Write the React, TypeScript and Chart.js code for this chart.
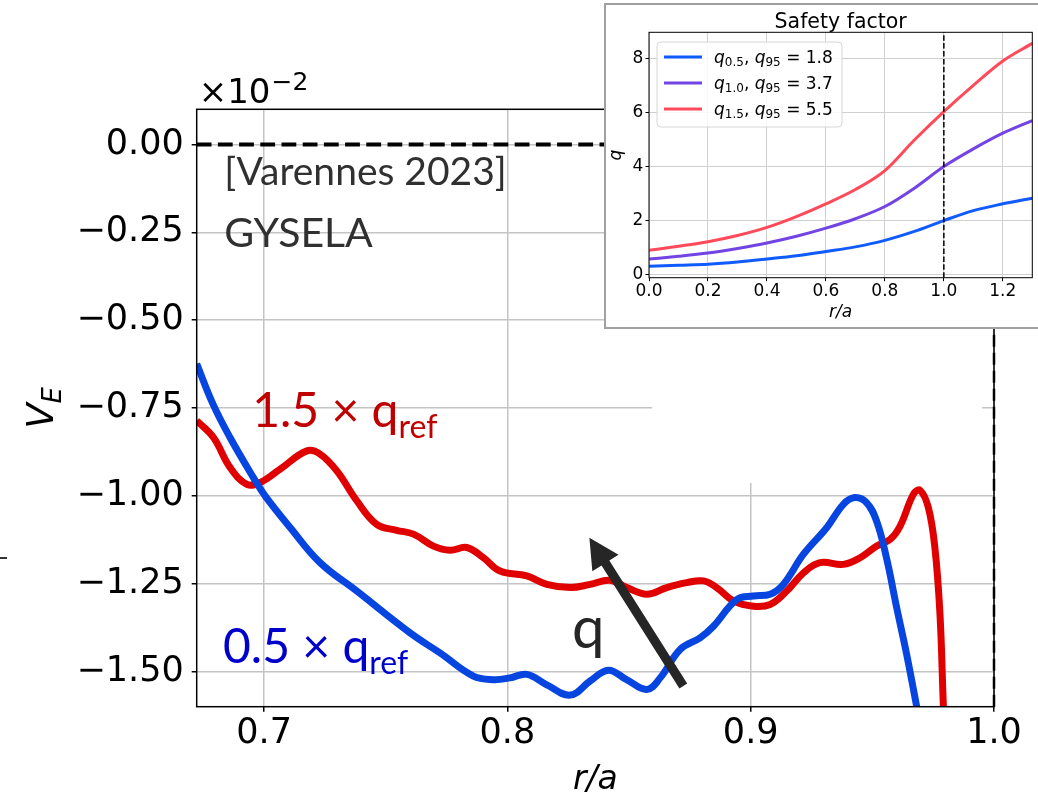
import React, { useEffect, useRef } from "react";
import { Chart, registerables } from "chart.js";
Chart.register(...registerables);

// ---------------- main panel data (V_E vs r/a, units of 1e-2) ----------------
const rBlue = [0.6723, 0.679, 0.686, 0.6956, 0.7004, 0.7107, 0.723, 0.7381, 0.76, 0.7723, 0.786, 0.7942, 0.801, 0.808, 0.816, 0.8258, 0.834, 0.8415, 0.849, 0.8573, 0.8628, 0.871, 0.8792, 0.8847, 0.8943, 0.9011, 0.908, 0.9134, 0.9217, 0.9313, 0.9381, 0.9428, 0.9476, 0.9517, 0.9558, 0.96, 0.9641, 0.9682, 0.972];
const vBlue = [-0.624, -0.739, -0.834, -0.948, -1.0, -1.09, -1.19, -1.271, -1.39, -1.447, -1.513, -1.523, -1.518, -1.508, -1.537, -1.567, -1.527, -1.496, -1.523, -1.551, -1.518, -1.437, -1.404, -1.371, -1.295, -1.285, -1.28, -1.252, -1.166, -1.09, -1.024, -1.005, -1.019, -1.071, -1.176, -1.318, -1.451, -1.599, -1.74];
const rRed = [0.6723, 0.6792, 0.686, 0.6929, 0.6984, 0.7066, 0.7176, 0.723, 0.7299, 0.7381, 0.7463, 0.7545, 0.7614, 0.7696, 0.7764, 0.7833, 0.7901, 0.797, 0.808, 0.8162, 0.8258, 0.834, 0.8421, 0.8491, 0.8573, 0.8655, 0.8737, 0.8806, 0.886, 0.8929, 0.9011, 0.908, 0.9148, 0.9217, 0.9285, 0.9381, 0.945, 0.9518, 0.9573, 0.9614, 0.9669, 0.9696, 0.973, 0.9757, 0.9778, 0.9792, 0.9805];
const vRed = [-0.786, -0.834, -0.919, -0.967, -0.962, -0.924, -0.872, -0.881, -0.929, -1.014, -1.081, -1.098, -1.109, -1.143, -1.155, -1.147, -1.176, -1.214, -1.228, -1.252, -1.261, -1.252, -1.24, -1.261, -1.28, -1.261, -1.247, -1.242, -1.261, -1.299, -1.314, -1.309, -1.271, -1.219, -1.19, -1.195, -1.176, -1.143, -1.124, -1.086, -0.995, -0.984, -1.033, -1.147, -1.337, -1.599, -1.8];
const mainXTicks = [0.7, 0.8, 0.9, 1.0];
const mainYTicks = [0, -0.25, -0.5, -0.75, -1.0, -1.25, -1.5];
const mainXMin = 0.6723;
const mainXMax = 1.0;
const mainYMin = -1.6;
const mainYMax = 0.1;
const separatrix = 1.0;

// annotations (data coordinates)
const refText = "[Varennes 2023]";
const codeText = "GYSELA";
const redLabel = ["1.5 \u00d7 q", "ref"];
const blueLabel = ["0.5 \u00d7 q", "ref"];
const arrowText = "q";
const arrowTail = [0.8723, -1.5413];
const arrowTip = [0.8337, -1.1189];

// ---------------- inset data (safety factor) ----------------
const insetR = [0, 0.1, 0.2, 0.3, 0.4, 0.5, 0.6, 0.7, 0.8, 0.9, 1.0, 1.1, 1.2, 1.3];
const qLow = [0.31, 0.35, 0.39, 0.47, 0.58, 0.7, 0.86, 1.03, 1.27, 1.6, 2.0, 2.37, 2.62, 2.83];
const qMid = [0.58, 0.68, 0.8, 0.97, 1.17, 1.42, 1.72, 2.07, 2.52, 3.2, 4.0, 4.65, 5.23, 5.7];
const qHigh = [0.9, 1.05, 1.22, 1.45, 1.75, 2.15, 2.62, 3.15, 3.85, 4.98, 6.03, 7.0, 7.9, 8.55];
const qFactors = ["0.5", "1.0", "1.5"];
const q95Values = ["1.8", "3.7", "5.5"];
const insetXTicks = [0, 0.2, 0.4, 0.6, 0.8, 1.0, 1.2];
const insetYTicks = [0, 2, 4, 6, 8];
const insetXMin = 0;
const insetXMax = 1.3;
const insetYMin = -0.11;
const insetYMax = 8.96;

const BLUE = "#0645e0";
const RED = "#e00000";
const IN_COLORS = ["#0f5bff", "#7244e4", "#ff4a5a"];
const DV = '"DejaVu Sans"';
const SLIDE = 'Lato, "Open Sans", sans-serif';

function pts(xs: number[], ys: number[]) {
  return xs.map((x, i) => ({ x, y: ys[i] }));
}

function drawParts(ctx: CanvasRenderingContext2D, x: number, y: number, parts: { t: string; f: string; dy?: number }[]) {
  for (const p of parts) {
    ctx.font = p.f;
    ctx.fillText(p.t, x, y + (p.dy || 0));
    x += ctx.measureText(p.t).width;
  }
  return x;
}

const mainOverlay = {
  id: "mainOverlay",
  beforeDatasetsDraw(chart: any) {
    // white patch left below the pasted inset
    const ctx = chart.ctx;
    const xs = chart.scales.x, ys = chart.scales.y;
    ctx.save();
    ctx.fillStyle = "#fff";
    const x0 = xs.getPixelForValue(0.8595), x1 = xs.getPixelForValue(0.9951);
    const y0 = ys.getPixelForValue(-0.52), y1 = ys.getPixelForValue(-0.963);
    ctx.fillRect(x0, y0, x1 - x0, y1 - y0);
    ctx.restore();
  },
  afterDatasetsDraw(chart: any) {
    const ctx: CanvasRenderingContext2D = chart.ctx;
    const { left, right, top, bottom } = chart.chartArea;
    const xs = chart.scales.x, ys = chart.scales.y;
    const P = (x: number, y: number) => [xs.getPixelForValue(x), ys.getPixelForValue(y)];
    ctx.save();
    // frame
    ctx.strokeStyle = "#000";
    ctx.lineWidth = 1.5;
    ctx.strokeRect(left, top, right - left, bottom - top);

    // arrow
    const [tx, ty] = P(arrowTail[0], arrowTail[1]);
    const [hx, hy] = P(arrowTip[0], arrowTip[1]);
    const dx = hx - tx, dy = hy - ty;
    const L = Math.hypot(dx, dy);
    const ux = dx / L, uy = dy / L;
    const nx = -uy, ny = ux;
    const headL = 30, headW = 15.5, shaftW = 4.6;
    const bx = hx - ux * headL, by = hy - uy * headL;
    ctx.fillStyle = "#262626";
    ctx.beginPath();
    ctx.moveTo(tx + nx * shaftW, ty + ny * shaftW);
    ctx.lineTo(bx + nx * shaftW, by + ny * shaftW);
    ctx.lineTo(bx + nx * headW, by + ny * headW);
    ctx.lineTo(hx, hy);
    ctx.lineTo(bx - nx * headW, by - ny * headW);
    ctx.lineTo(bx - nx * shaftW, by - ny * shaftW);
    ctx.lineTo(tx - nx * shaftW, ty - ny * shaftW);
    ctx.closePath();
    ctx.fill();

    // texts
    ctx.textAlign = "left";
    ctx.textBaseline = "alphabetic";
    ctx.fillStyle = "#303030";
    let [ax, ay] = P(0.6836, -0.1146);
    ctx.font = `39px ${SLIDE}`;
    ctx.fillText(refText, ax, ay);
    [ax, ay] = P(0.6836, -0.292);
    ctx.font = `41px ${SLIDE}`;
    ctx.fillText(codeText, ax, ay);

    ctx.fillStyle = "#c00000";
    [ax, ay] = P(0.6951, -0.8053);
    drawParts(ctx, ax, ay, [
      { t: redLabel[0], f: `48px ${SLIDE}` },
      { t: redLabel[1], f: `32px ${SLIDE}`, dy: 11 },
    ]);
    ctx.fillStyle = "#0000cc";
    [ax, ay] = P(0.6831, -1.4753);
    drawParts(ctx, ax, ay, [
      { t: blueLabel[0], f: `48px ${SLIDE}` },
      { t: blueLabel[1], f: `32px ${SLIDE}`, dy: 11 },
    ]);
    ctx.fillStyle = "#262626";
    [ax, ay] = P(0.8266, -1.4326);
    ctx.font = `58px ${SLIDE}`;
    ctx.fillText(arrowText, ax, ay);

    // offset text  x10^-2
    ctx.fillStyle = "#000";
    const ox = drawParts(ctx, left + 2, top - 6, [{ t: "\u00d710", f: `34px ${DV}` }]);
    drawParts(ctx, ox + 1, top - 19, [{ t: "\u22122", f: `25px ${DV}` }]);

    // x label r/a
    ctx.textAlign = "center";
    ctx.font = `italic 33px ${DV}`;
    ctx.fillText("r/a", (left + right) / 2, 789);

    // y label V_E
    ctx.save();
    ctx.translate(53, (top + bottom) / 2);
    ctx.rotate(-Math.PI / 2);
    ctx.textAlign = "left";
    ctx.font = `italic 37px ${DV}`;
    const wV = ctx.measureText("V").width;
    ctx.font = `italic 26px ${DV}`;
    const wE = ctx.measureText("E").width;
    const sx = -(wV + wE) / 2;
    ctx.font = `italic 37px ${DV}`;
    ctx.fillText("V", sx, 0);
    ctx.font = `italic 26px ${DV}`;
    ctx.fillText("E", sx + wV, 8);
    ctx.restore();

    // stray dash at left border
    ctx.fillStyle = "#333";
    ctx.fillRect(0, 557, 7, 2);
    ctx.restore();
  },
};

const insetOverlay = {
  id: "insetOverlay",
  afterDatasetsDraw(chart: any) {
    const ctx: CanvasRenderingContext2D = chart.ctx;
    const { left, right, top, bottom } = chart.chartArea;
    ctx.save();
    ctx.strokeStyle = "#000";
    ctx.lineWidth = 1;
    ctx.strokeRect(left, top, right - left, bottom - top);

    // title
    ctx.fillStyle = "#000";
    ctx.textAlign = "center";
    ctx.textBaseline = "alphabetic";
    ctx.font = `20.5px ${DV}`;
    ctx.fillText("Safety factor", (left + right) / 2, top - 4.5);

    // x label
    ctx.font = `italic 17px ${DV}`;
    ctx.fillText("r/a", (left + right) / 2, bottom + 39);

    // y label
    ctx.save();
    ctx.translate(15, (top + bottom) / 2);
    ctx.rotate(-Math.PI / 2);
    ctx.font = `italic 17px ${DV}`;
    ctx.fillText("q", 0, 0);
    ctx.restore();

    // legend
    const lx = left + 8, ly = top + 9.7, lw = 185, lh = 85, r = 4;
    ctx.beginPath();
    ctx.moveTo(lx + r, ly);
    ctx.arcTo(lx + lw, ly, lx + lw, ly + lh, r);
    ctx.arcTo(lx + lw, ly + lh, lx, ly + lh, r);
    ctx.arcTo(lx, ly + lh, lx, ly, r);
    ctx.arcTo(lx, ly, lx + lw, ly, r);
    ctx.closePath();
    ctx.fillStyle = "rgba(255,255,255,0.85)";
    ctx.fill();
    ctx.strokeStyle = "#d6d6d6";
    ctx.lineWidth = 1;
    ctx.stroke();

    ctx.textAlign = "left";
    for (let i = 0; i < qFactors.length; i++) {
      const cy = top + 24.7 + i * 26;
      ctx.strokeStyle = IN_COLORS[i];
      ctx.lineWidth = 3;
      ctx.beginPath();
      ctx.moveTo(left + 15, cy);
      ctx.lineTo(left + 53, cy);
      ctx.stroke();
      ctx.fillStyle = "#000";
      drawParts(ctx, left + 65, cy + 5.8, [
        { t: "q", f: `italic 17px ${DV}` },
        { t: qFactors[i], f: `12px ${DV}`, dy: 3.5 },
        { t: ", ", f: `17px ${DV}` },
        { t: "q", f: `italic 17px ${DV}` },
        { t: "95", f: `12px ${DV}`, dy: 3.5 },
        { t: " = " + q95Values[i], f: `17px ${DV}` },
      ]);
    }
    ctx.restore();
  },
};

export default function App() {
  const mainRef = useRef<HTMLCanvasElement>(null);
  const insetRef = useRef<HTMLCanvasElement>(null);

  useEffect(() => {
    const mainChart = new Chart(mainRef.current as HTMLCanvasElement, {
      type: "line",
      data: {
        datasets: [
          {
            data: pts(rBlue, vBlue),
            borderColor: BLUE,
            borderWidth: 7,
            pointRadius: 0,
            tension: 0.4,
            clip: 0,
            order: 1,
          },
          {
            data: pts(rRed, vRed),
            borderColor: RED,
            borderWidth: 7,
            pointRadius: 0,
            tension: 0.4,
            clip: 0,
            order: 2,
          },
          {
            data: [
              { x: mainXMin, y: 0 },
              { x: mainXMax, y: 0 },
            ],
            borderColor: "#000",
            borderWidth: 4,
            borderDash: [14.8, 6.4],
            pointRadius: 0,
            clip: 0,
            order: 3,
          },
          {
            data: [
              { x: separatrix, y: mainYMin },
              { x: separatrix, y: mainYMax },
            ],
            borderColor: "#000",
            borderWidth: 2.5,
            borderDash: [12, 6],
            pointRadius: 0,
            clip: false,
            order: 4,
          },
        ],
      } as any,
      options: {
        animation: false,
        responsive: false,
        events: [],
        layout: { padding: { left: 0, top: 109.3, right: 44, bottom: 0 } },
        plugins: { legend: { display: false }, title: { display: false }, tooltip: { enabled: false } },
        scales: {
          x: {
            type: "linear",
            min: mainXMin,
            max: mainXMax,
            afterBuildTicks: (s: any) => {
              s.ticks = mainXTicks.map((v) => ({ value: v }));
            },
            afterFit: (s: any) => {
              s.height = 88.3;
            },
            ticks: {
              callback: (v: any) => Number(v).toFixed(1),
              font: { family: "DejaVu Sans", size: 35 },
              color: "#000",
              padding: 1,
              maxRotation: 0,
              autoSkip: false,
            },
            grid: { color: "#c4c4c4", lineWidth: 1.5, tickLength: 5, tickColor: "#000", tickWidth: 1.5 },
            border: { display: false },
          },
          y: {
            type: "linear",
            min: mainYMin,
            max: mainYMax,
            afterBuildTicks: (s: any) => {
              s.ticks = mainYTicks.map((v) => ({ value: v }));
            },
            afterFit: (s: any) => {
              s.width = 196.7;
            },
            ticks: {
              callback: (v: any) => {
                const n = Number(v);
                if (Math.abs(n) < 1e-9) return "0.00";
                return n.toFixed(2).replace("-", "\u2212");
              },
              font: { family: "DejaVu Sans", size: 35 },
              color: "#000",
              padding: 8,
              autoSkip: false,
            },
            grid: { color: "#c4c4c4", lineWidth: 1.5, tickLength: 5, tickColor: "#000", tickWidth: 1.5 },
            border: { display: false },
          },
        },
      } as any,
      plugins: [mainOverlay as any],
    });

    const insetChart = new Chart(insetRef.current as HTMLCanvasElement, {
      type: "line",
      data: {
        datasets: [
          ...[qLow, qMid, qHigh].map((q, i) => ({
            data: pts(insetR, q),
            borderColor: IN_COLORS[i],
            borderWidth: 3,
            pointRadius: 0,
            cubicInterpolationMode: "monotone",
            clip: 0,
            order: 3 - i,
          })),
          {
            data: [
              { x: separatrix, y: insetYMin },
              { x: separatrix, y: insetYMax },
            ],
            borderColor: "#000",
            borderWidth: 1.5,
            borderDash: [5.5, 2.4],
            pointRadius: 0,
            clip: 0,
            order: 0,
          },
        ],
      } as any,
      options: {
        animation: false,
        responsive: false,
        events: [],
        layout: { padding: { left: 0, top: 27.3, right: 13.7, bottom: 0 } },
        plugins: { legend: { display: false }, title: { display: false }, tooltip: { enabled: false } },
        scales: {
          x: {
            type: "linear",
            min: insetXMin,
            max: insetXMax,
            afterBuildTicks: (s: any) => {
              s.ticks = insetXTicks.map((v) => ({ value: v }));
            },
            afterFit: (s: any) => {
              s.height = 49.3;
            },
            ticks: {
              callback: (v: any) => Number(v).toFixed(1),
              font: { family: "DejaVu Sans", size: 17 },
              color: "#000",
              padding: 0.3,
              maxRotation: 0,
              autoSkip: false,
            },
            grid: { color: "#d0d0d0", lineWidth: 1, tickLength: 3.5, tickColor: "#000", tickWidth: 1 },
            border: { display: false },
          },
          y: {
            type: "linear",
            min: insetYMin,
            max: insetYMax,
            afterBuildTicks: (s: any) => {
              s.ticks = insetYTicks.map((v) => ({ value: v }));
            },
            afterFit: (s: any) => {
              s.width = 43;
            },
            ticks: {
              callback: (v: any) => String(Math.round(Number(v))),
              font: { family: "DejaVu Sans", size: 17 },
              color: "#000",
              padding: 2.2,
              autoSkip: false,
            },
            grid: { color: "#d0d0d0", lineWidth: 1, tickLength: 3.5, tickColor: "#000", tickWidth: 1 },
            border: { display: false },
          },
        },
      } as any,
      plugins: [insetOverlay as any],
    });

    return () => {
      mainChart.destroy();
      insetChart.destroy();
    };
  }, []);

  return (
    <div style={{ position: "absolute", left: 0, top: 0, width: 1038, height: 795, overflow: "hidden", background: "#fff" }}>
      <canvas ref={mainRef} width={1038} height={795} style={{ position: "absolute", left: 0, top: 0 }} />
      <div
        style={{
          position: "absolute",
          left: 604,
          top: 3,
          width: 440,
          height: 322,
          border: "2px solid #a0a0a0",
          background: "#fff",
        }}
      >
        <canvas ref={insetRef} width={440} height={322} style={{ display: "block" }} />
      </div>
    </div>
  );
}
